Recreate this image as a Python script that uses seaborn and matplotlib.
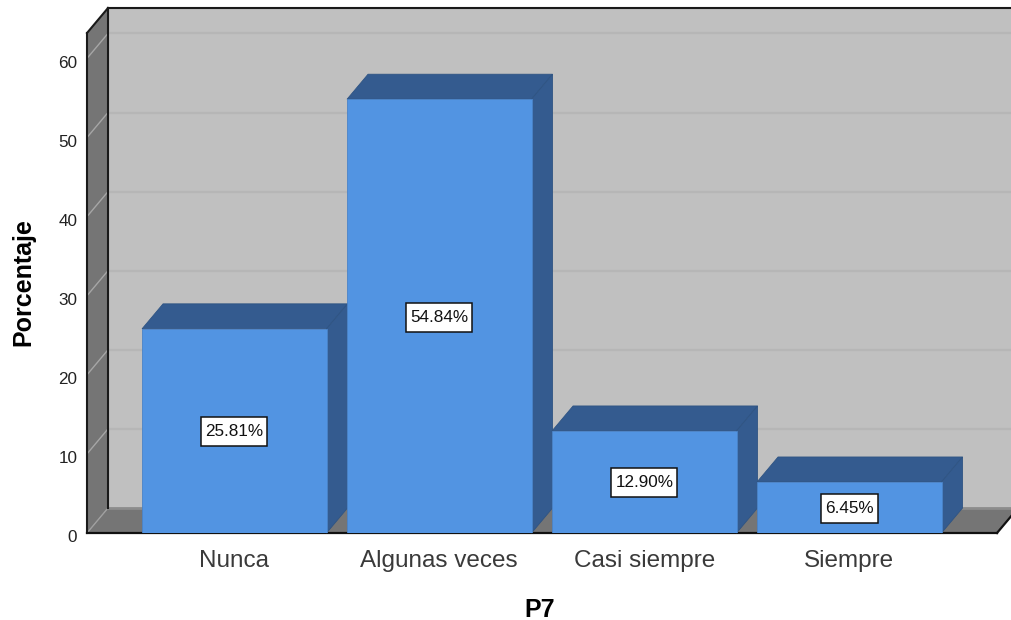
import matplotlib
matplotlib.use("Agg")
import matplotlib.pyplot as plt
from matplotlib.patches import Polygon, Rectangle
from matplotlib.transforms import Affine2D
import pandas as pd
import seaborn as sns

categories = ["Nunca", "Algunas veces", "Casi siempre", "Siempre"]
percentages = [25.81, 54.84, 12.90, 6.45]
labels = ["25.81%", "54.84%", "12.90%", "6.45%"]
yticks = [0, 10, 20, 30, 40, 50, 60]

W, H = 1011, 620
LEFT, RIGHT, BASE, TOP = 87, 997, 533, 33
DX, DY = 21, 25
PX_PER_UNIT = 7.91
BAR_W = 184.5 / 205
FRONT = "#5294E2"
DEPTH = "#345B8F"
WALL = "#C0C0C0"
DARK = "#757575"
GRID = "#B6B6B6"

sns.set_theme(style="white")
plt.rcParams["font.family"] = ["Liberation Sans", "DejaVu Sans"]

fig = plt.figure(figsize=(W / 100, H / 100), dpi=100, facecolor="white")
ax = fig.add_axes([LEFT / W, 1 - BASE / H, (RIGHT - LEFT) / W, (BASE - TOP) / H])
ax.patch.set_alpha(0)

df = pd.DataFrame({"P7": categories, "Porcentaje": percentages})
sns.barplot(data=df, x="P7", y="Porcentaje", color=FRONT, saturation=1, width=BAR_W,
            ax=ax, zorder=6, edgecolor="#4A83C8", linewidth=0.6)

ax.set_xlim((LEFT - 234.3) / 205, (RIGHT - 234.3) / 205)
ax.set_ylim(0, (BASE - TOP) / PX_PER_UNIT)
ax.set_yticks(yticks)
ax.tick_params(axis="y", labelsize=12.3, length=0, pad=7, labelcolor="#222222")
ax.tick_params(axis="x", labelsize=17.5, length=0, pad=24.5, labelcolor="#3a3a3a")
for t in ax.get_xticklabels():
    t.set_verticalalignment("baseline")
ax.set_xlabel("")
ax.set_ylabel("")
fig.text(540 / W, 1 - 617 / H, "P7", fontsize=18, fontweight="bold", color="black",
         ha="center", va="baseline")
fig.text(35 / W, 1 - 282 / H, "Porcentaje", fontsize=18, fontweight="bold", color="black",
         ha="right", va="center", rotation=90, rotation_mode="default")
for s in ax.spines.values():
    s.set_visible(False)
# Value-axis labels sit a few pixels below their gridlines
for t in ax.get_yticklabels():
    t.set_transform(t.get_transform() + Affine2D().translate(0, -3.5))

# Offset (in pixels) from the front plane to the back plane
depth = Affine2D().translate(DX, DY)
front_tf = ax.transData
back_tf = ax.transData + depth
x0, x1 = ax.get_xlim()
y0, y1 = ax.get_ylim()


def poly(points, color, z, edge="none", lw=0):
    """points: (x, y, is_back) in data coordinates, mapped to display pixels."""
    disp = [(back_tf if b else front_tf).transform((x, y)) for x, y, b in points]
    p = Polygon(disp, closed=True, facecolor=color, edgecolor=edge, linewidth=lw,
                transform=None, zorder=z, clip_on=False)
    ax.add_patch(p)


def seg(a, b, color, lw, z):
    (xa, ya, ba), (xb, yb, bb) = a, b
    pa = (back_tf if ba else front_tf).transform((xa, ya))
    pb = (back_tf if bb else front_tf).transform((xb, yb))
    ax.plot([pa[0], pb[0]], [pa[1], pb[1]], transform=None, color=color, lw=lw,
            zorder=z, clip_on=False, solid_capstyle="projecting")


# Back wall, side wall, floor
poly([(x0, y0, 1), (x1, y0, 1), (x1, y1, 1), (x0, y1, 1)], WALL, 1)
poly([(x0, y0, 0), (x0, y0, 1), (x0, y1, 1), (x0, y1, 0)], DARK, 2)
poly([(x0, y0, 0), (x1, y0, 0), (x1, y0, 1), (x0, y0, 1)], DARK, 2)

# Gridlines on back wall and side wall
for v in yticks[1:]:
    seg((x0, v, 1), (x1, v, 1), GRID, 1.6, 1.5)
    seg((x0, v, 0), (x0, v, 1), "#A6A6A6", 1.0, 2.5)
seg((x0, 0, 0), (x0, 0, 1), "#A0A0A0", 1.0, 2.5)
seg((x0, 0, 1), (x1, 0, 1), "#8C8C8C", 2.0, 2.5)

# Frame lines
seg((x0, y1, 1), (x1, y1, 1), "#1a1a1a", 1.5, 3)
seg((x0, 0, 1), (x0, y1, 1), "#1a1a1a", 1.5, 3)
seg((x0, 0, 0), (x0, y1, 0), "#1a1a1a", 1.5, 3)
seg((x0, y1, 0), (x0, y1, 1), "#1a1a1a", 1.5, 3)
seg((x0, 0, 0), (x1, 0, 0), "#111111", 1.6, 3)
seg((x1, 0, 0), (x1, 0, 1), "#111111", 1.6, 3)

# Bar depth faces and value labels
renderer = fig.canvas.get_renderer()
for i, (bar, val, lab) in enumerate(zip(ax.patches, percentages, labels)):
    l, r = bar.get_x(), bar.get_x() + bar.get_width()
    poly([(l, val, 0), (r, val, 0), (r, val, 1), (l, val, 1)], DEPTH, 5, "#2F5483", 0.6)
    poly([(r, 0, 0), (r, 0, 1), (r, val, 1), (r, val, 0)], DEPTH, 5, "#2F5483", 0.6)
    txt = ax.text(i, val / 2, lab, ha="center", va="center", fontsize=12.3, color="#111111", zorder=9,
                  transform=ax.transData + Affine2D().translate(0, -1))
    ext = txt.get_window_extent(renderer)
    cx, cy = ax.transData.transform((i, val / 2))
    box_w, box_h = ext.width + 8, 29
    ax.add_patch(Rectangle((cx - box_w / 2, cy - 1 - box_h / 2), box_w, box_h, transform=None,
                           facecolor="white", edgecolor="#111111", linewidth=1.1, zorder=8,
                           clip_on=False))

fig.savefig("out.png", dpi=100, facecolor="white")
